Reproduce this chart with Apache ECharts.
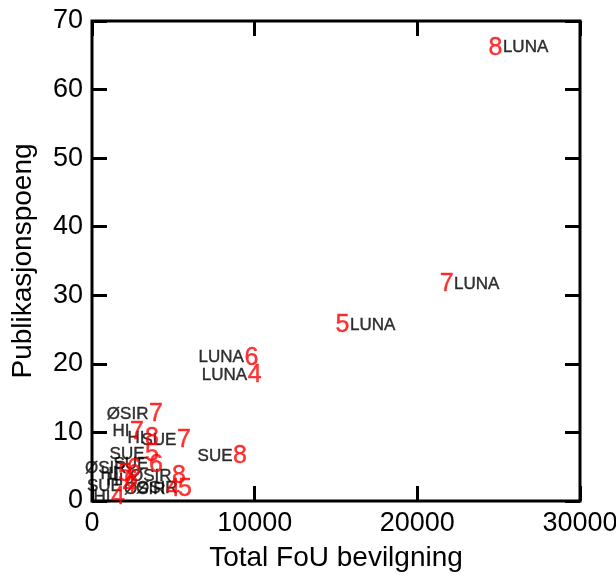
<!DOCTYPE html>
<html><head><meta charset="utf-8">
<script src="https://cdn.jsdelivr.net/npm/echarts@6/dist/echarts.min.js"></script>
<style>html,body{margin:0;padding:0;background:#fff}#c{width:616px;height:579px}</style>
</head><body><div id="c"></div>
<script>
const years = [4, 5, 6, 7, 8];
const fouLUNA = [10000, 15400, 9800, 21800, 24800];
const pubLUNA = [18.4, 25.6, 20.9, 31.6, 66.1];
const fouSUE = [2300, 3690, 3930, 5650, 9100];
const pubSUE = [2.2, 6.8, 5.3, 8.9, 6.5];
const fouHI = [1600, 2030, 2400, 2770, 3690];
const pubHI = [0.6, 3.9, 3.0, 10.1, 9.1];
const fouOSIR = [4980, 5720, 2580, 3930, 5350];
const pubOSIR = [1.7, 1.8, 4.7, 12.7, 3.6];
const labelRightLUNA = [false, true, false, true, true];
const xTicks = [0, 10000, 20000, 30000];
const yTicks = [0, 10, 20, 30, 40, 50, 60, 70];

const groups = [
  ['LUNA', fouLUNA, pubLUNA, labelRightLUNA],
  ['SUE', fouSUE, pubSUE, null],
  ['HI', fouHI, pubHI, null],
  ['ØSIR', fouOSIR, pubOSIR, null]
];
const leftData = [], rightData = [], digitData = [];
groups.forEach(([name, xs, ys, right]) => {
  xs.forEach((x, i) => {
    const item = [x, ys[i], name, years[i]];
    digitData.push(item);
    if (right && right[i]) rightData.push(item); else leftData.push(item);
  });
});
const FONT = 'Liberation Sans, Arial, sans-serif';
const chart = echarts.init(document.getElementById('c'), null, {renderer: 'canvas'});
const tick = {show: true, inside: true, length: 15, lineStyle: {color: '#000', width: 3}};
const noLine = {show: false, onZero: false};
const nameLabel = {show: true, distance: 7, formatter: p => p.data[2],
  color: '#000', fontSize: 17, fontFamily: FONT, textBorderColor: '#000', textBorderWidth: 0.4};
chart.setOption({
  animation: false,
  backgroundColor: '#fff',
  grid: {left: 92, top: 21, width: 488, height: 480, show: true, borderColor: '#000', borderWidth: 3,
    containLabel: false, outerBoundsMode: 'none'},
  xAxis: [
    {
      type: 'value', min: 0, position: 'bottom', max: xTicks[xTicks.length - 1], interval: xTicks[1] - xTicks[0],
      splitLine: {show: false}, axisLine: noLine, axisTick: tick,
      axisLabel: {color: '#000', fontSize: 27, fontFamily: FONT, margin: 9, formatter: v => String(v)},
      name: 'Total FoU bevilgning', nameLocation: 'middle', nameGap: 43,
      nameTextStyle: {color: '#000', fontSize: 28, fontFamily: FONT}
    },
    {
      type: 'value', min: 0, position: 'top', max: xTicks[xTicks.length - 1], interval: xTicks[1] - xTicks[0],
      splitLine: {show: false}, axisLine: noLine, axisTick: tick,
      axisLabel: {show: false}
    }
  ],
  yAxis: [
    {
      type: 'value', min: 0, position: 'left', max: yTicks[yTicks.length - 1], interval: yTicks[1] - yTicks[0],
      splitLine: {show: false}, axisLine: noLine, axisTick: tick,
      axisLabel: {color: '#000', fontSize: 27, fontFamily: FONT, margin: 9, formatter: v => String(v)},
      name: 'Publikasjonspoeng', nameLocation: 'middle', nameGap: 55,
      nameTextStyle: {color: '#000', fontSize: 28, fontFamily: FONT}
    },
    {
      type: 'value', min: 0, position: 'right', max: yTicks[yTicks.length - 1], interval: yTicks[1] - yTicks[0],
      splitLine: {show: false}, axisLine: noLine, axisTick: tick,
      axisLabel: {show: false}
    }
  ],
  series: [
    {
      type: 'scatter', data: leftData, symbolSize: 1, itemStyle: {color: 'rgba(0,0,0,0)'},
      label: Object.assign({}, nameLabel, {position: 'left'})
    },
    {
      type: 'scatter', data: rightData, symbolSize: 1, itemStyle: {color: 'rgba(0,0,0,0)'},
      label: Object.assign({}, nameLabel, {position: 'right'})
    },
    {
      type: 'scatter', data: digitData, symbolSize: 1, itemStyle: {color: 'rgba(0,0,0,0)'},
      label: {show: true, position: 'inside', formatter: p => String(p.data[3]),
        color: '#ff0000', fontSize: 25, fontFamily: FONT, textBorderColor: '#ff0000', textBorderWidth: 0.4}
    }
  ]
});
</script></body></html>
